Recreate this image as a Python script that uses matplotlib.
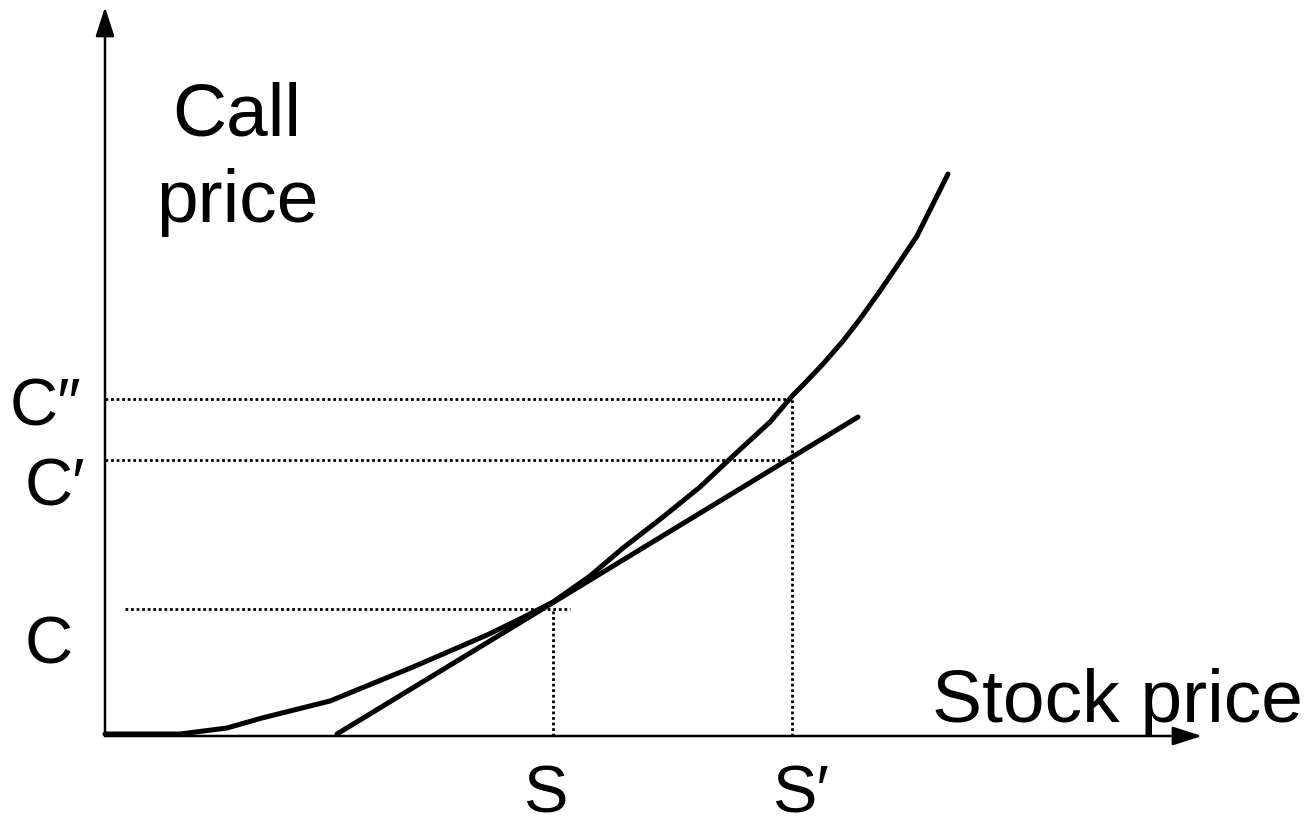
import matplotlib
matplotlib.use("Agg")
import matplotlib.pyplot as plt

plt.rcParams['font.family'] = ['Liberation Sans', 'DejaVu Sans']

# Call price curve (convex), stock price on x
curve_x = [0, 7.5, 12.2, 15.7, 22.5, 30.8, 38.2, 41.5, 44.8, 48.5, 51.8, 55.8, 59.5,
           62.8, 66.5, 68.8, 69.8, 71.8, 73.8, 75.5, 77.5, 79.2, 81.2, 82.8, 84.3]
curve_y = [0.2, 0.2, 0.8, 1.8, 3.5, 6.9, 10.1, 11.7, 13.4, 16.0, 18.8, 21.9, 24.9,
           28.0, 31.4, 34.1, 35.1, 37.2, 39.5, 41.7, 44.5, 47.0, 50.0, 53.2, 56.2]

# Tangent line at S
tangent_x = [23.2, 75.3]
tangent_y = [0.2, 31.9]

# Reference levels
S, S_prime = 44.8, 68.7
C, C_prime, C_dprime = 12.7, 27.6, 33.7
C_line_x = [2.0, 46.5]

x_end, y_end = 109.7, 72.9

fig = plt.figure(figsize=(13.09, 8.28), dpi=100)
ax = fig.add_axes([0, 0, 1, 1])
ax.set_xlim(-10.5, 120.4)
ax.set_ylim(-9.1, 73.7)
ax.axis('off')

arrow_kw = dict(arrowstyle='-|>,head_length=1.0,head_width=0.32', mutation_scale=18,
                lw=1.8, color='black', shrinkA=0, shrinkB=0)
ax.annotate('', xy=(0, y_end), xytext=(0, 0), arrowprops=arrow_kw)
ax.annotate('', xy=(x_end, 0), xytext=(0, 0), arrowprops=arrow_kw)

dot = dict(color='black', lw=2.0, linestyle=(0, (1.0, 1.0)), dash_capstyle='butt')
ax.plot([0, S_prime], [C_dprime, C_dprime], **dot)
ax.plot([0, S_prime], [C_prime, C_prime], **dot)
ax.plot(C_line_x, [C, C], **dot)
ax.plot([S, S], [0, C], **dot)
ax.plot([S_prime, S_prime], [0, C_dprime], **dot)

ax.plot(curve_x, curve_y, color='black', lw=3.6, solid_capstyle='round', solid_joinstyle='round')
ax.plot(tangent_x, tangent_y, color='black', lw=3.6, solid_capstyle='round')

big = 54
small = 48
ax.text(13.2, 60.2, 'Call', fontsize=big, ha='center', va='baseline')
ax.text(13.2, 51.5, 'price', fontsize=big, ha='center', va='baseline')
ax.text(82.7, 1.5, 'Stock price', fontsize=big, ha='left', va='baseline')
ax.text(44.0, -7.6, 'S', fontsize=small, ha='center', va='baseline')
ax.text(66.7, -7.6, 'S\u2032', fontsize=small, ha='left', va='baseline')
ax.text(-9.5, 31.2, 'C\u2033', fontsize=small, ha='left', va='baseline')
ax.text(-8.0, 23.2, 'C\u2032', fontsize=small, ha='left', va='baseline')
ax.text(-8.0, 7.4, 'C', fontsize=small, ha='left', va='baseline')

fig.savefig('out.png', dpi=100)
